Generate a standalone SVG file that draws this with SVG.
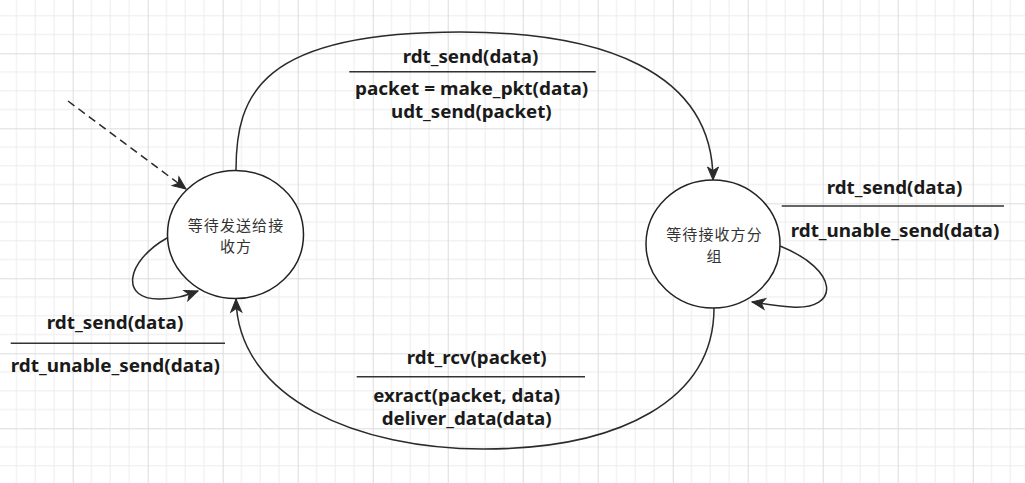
<svg xmlns="http://www.w3.org/2000/svg" width="1025" height="483" viewBox="0 0 1025 483">
<style>
  .node { fill: #ffffff; stroke: #222222; stroke-width: 1.5; }
  .ntext { font-family: "Noto Sans CJK SC", "Noto Sans", sans-serif; font-size: 15px; letter-spacing: 1.1px; fill: #333333; text-anchor: middle; }
  .edge { fill: none; stroke: #2a2a2a; stroke-width: 1.5; }
  .dash { stroke-dasharray: 8 5; }
  .lbl { font-family: "Noto Sans", "Liberation Sans", sans-serif; font-size: 17px; font-weight: bold; fill: #1a1a1a; }
  .sep { stroke: #333333; stroke-width: 1.6; }
</style>
<defs>
  <pattern id="grid" patternUnits="userSpaceOnUse" x="-2.3" y="-21.7" width="75" height="75">
    <path d="M18.75 0V75M37.5 0V75M56.25 0V75M0 18.75H75M0 37.5H75M0 56.25H75" stroke="#ececec" stroke-width="1" fill="none"/>
    <path d="M0.5 0V75M0 0.5H75" stroke="#dcdcdc" stroke-width="1" fill="none"/>
  </pattern>
  <marker id="arr" markerUnits="userSpaceOnUse" markerWidth="14" markerHeight="11" refX="13" refY="5.5" orient="auto" overflow="visible">
    <path d="M0,0 L13,5.5 L0,11 L3.5,5.5 Z" fill="#2a2a2a" stroke="#2a2a2a" stroke-width="1" stroke-linejoin="miter"/>
  </marker>
</defs>
<rect x="0" y="0" width="1025" height="483" fill="#ffffff"/>
<rect x="0" y="0" width="1025" height="483" fill="url(#grid)"/>

<g id="connectors">
  <path id="e-init" class="edge dash" d="M68,101 L186,189" marker-end="url(#arr)"/>
  <path id="e-top" class="edge" d="M236,170 C236,95 260,32 460,32 C600,32 713,70 713,180" marker-end="url(#arr)"/>
  <path id="e-bottom" class="edge" d="M714,308 C714,400 620,449 483,449 C360,449 238,400 236,299" marker-end="url(#arr)"/>
  <path id="e-loop-left" class="edge" d="M167,238 C125,262 120,300 160,299 C175,299 185,296 198,291" marker-end="url(#arr)"/>
  <path id="e-loop-right" class="edge" d="M780,246 C840,270 840,310 792,307 C776,306 765,304 752,302" marker-end="url(#arr)"/>
</g>

<g id="node-send">
  <ellipse class="node" cx="235.5" cy="234.5" rx="68" ry="64"/>
  <text class="ntext" x="236" y="230.5">等待发送给接<tspan x="236" dy="21.8">收方</tspan></text>
</g>

<g id="node-recv">
  <ellipse class="node" cx="713" cy="244" rx="67" ry="64"/>
  <text class="ntext" x="714.5" y="240.3">等待接收方分<tspan x="714.5" dy="21.8">组</tspan></text>
</g>

<g id="label-top">
  <text class="lbl" x="402.7" y="63" textLength="135.6" lengthAdjust="spacingAndGlyphs">rdt_send(data)</text>
  <line class="sep" x1="349.3" y1="71.7" x2="595.7" y2="71.7"/>
  <text class="lbl" x="355" y="95" textLength="233.3" lengthAdjust="spacingAndGlyphs">packet = make_pkt(data)</text>
  <text class="lbl" x="391" y="118" textLength="160.7" lengthAdjust="spacingAndGlyphs">udt_send(packet)</text>
</g>

<g id="label-right">
  <text class="lbl" x="826.7" y="194" textLength="135.6" lengthAdjust="spacingAndGlyphs">rdt_send(data)</text>
  <line class="sep" x1="781.7" y1="206" x2="1004" y2="206"/>
  <text class="lbl" x="790.7" y="237" textLength="208.6" lengthAdjust="spacingAndGlyphs">rdt_unable_send(data)</text>
</g>

<g id="label-left">
  <text class="lbl" x="46.7" y="329" textLength="136.6" lengthAdjust="spacingAndGlyphs">rdt_send(data)</text>
  <line class="sep" x1="10.7" y1="343.3" x2="225" y2="343.3"/>
  <text class="lbl" x="10.7" y="371.5" textLength="209.3" lengthAdjust="spacingAndGlyphs">rdt_unable_send(data)</text>
</g>

<g id="label-bottom">
  <text class="lbl" x="406.7" y="364" textLength="140" lengthAdjust="spacingAndGlyphs">rdt_rcv(packet)</text>
  <line class="sep" x1="356.7" y1="376.7" x2="585" y2="376.7"/>
  <text class="lbl" x="373.3" y="401.7" textLength="186.7" lengthAdjust="spacingAndGlyphs">exract(packet, data)</text>
  <text class="lbl" x="381.7" y="425" textLength="170" lengthAdjust="spacingAndGlyphs">deliver_data(data)</text>
</g>
</svg>
